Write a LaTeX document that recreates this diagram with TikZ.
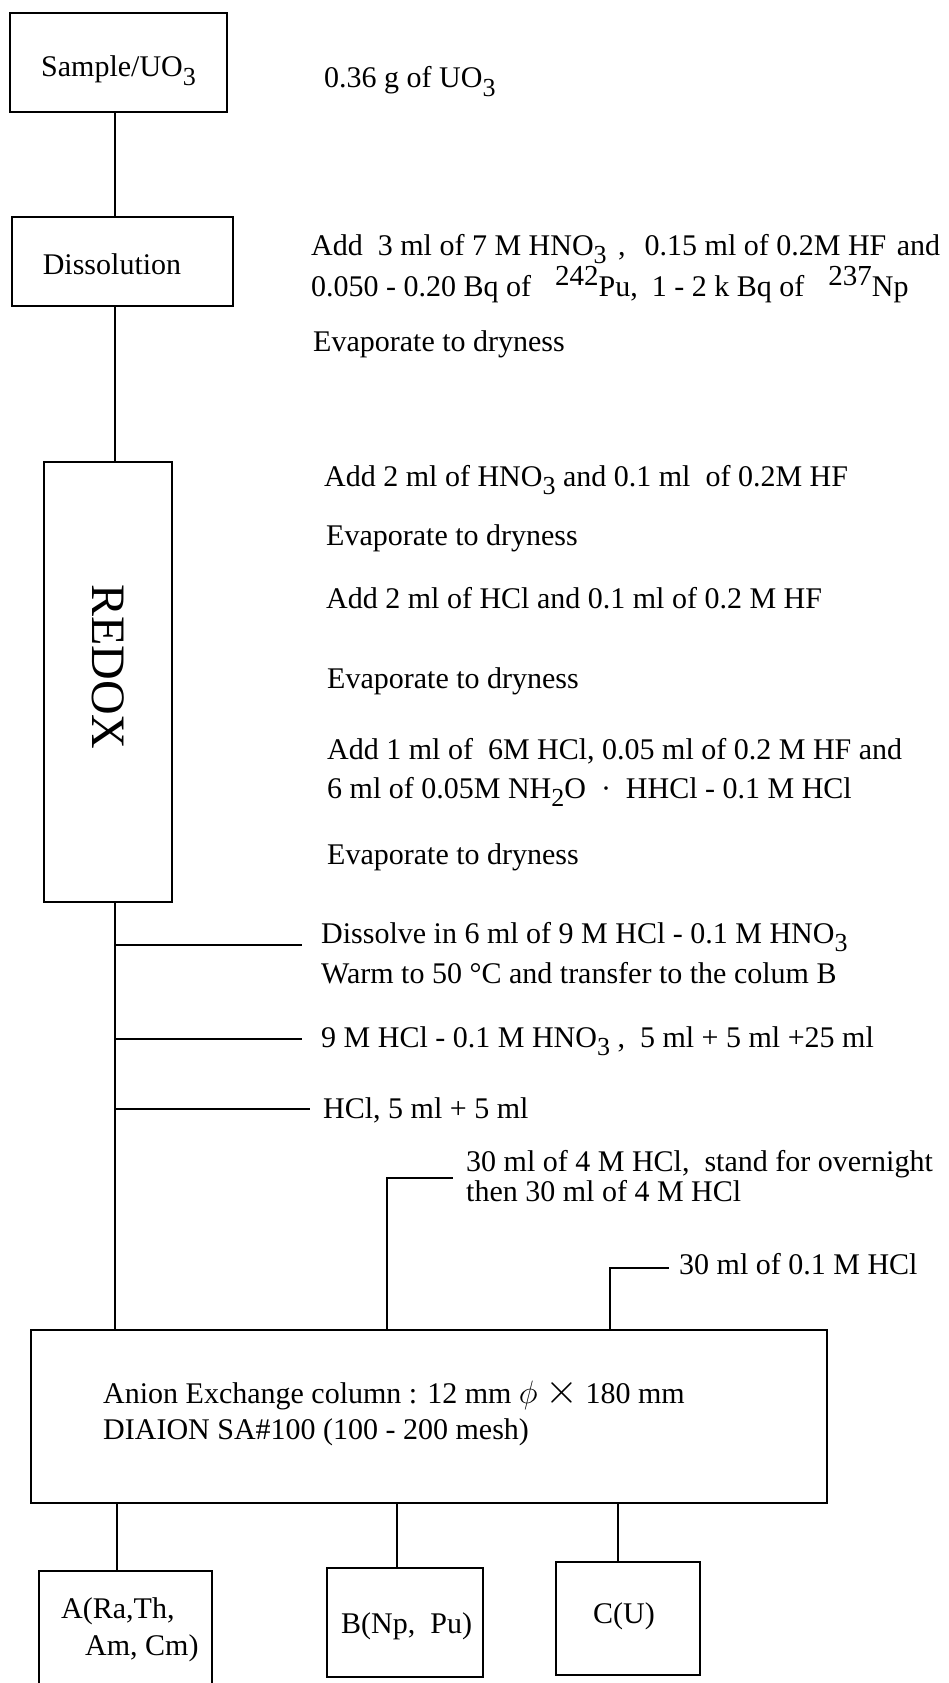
\documentclass[tikz,border=0pt]{standalone}
\usepackage{fontspec}
\setmainfont{Liberation Serif}
\usepackage{graphicx}
\newcommand{\sbs}[1]{\raisebox{-0.27em}{\fontsize{26}{26}\selectfont #1}}
\newcommand{\sps}[1]{\raisebox{0.36em}{\fontsize{29}{29}\selectfont #1}}
\begin{document}
\begin{tikzpicture}[x=1pt,y=-1pt,
  box/.style={draw, line width=1.6pt, inner sep=0pt, outer sep=0pt},
  txt/.style={anchor=base west, inner sep=0pt, font=\fontsize{30}{36}\selectfont},
  ctxt/.style={anchor=base, inner sep=0pt, font=\fontsize{30}{36}\selectfont},
  conn/.style={line width=1.6pt}]
\path[use as bounding box] (0,0) rectangle (948,1683);
\fill[white] (0,0) rectangle (948,1683);
\coordinate (spine) at (115,0);

% boxes
\node[box, minimum width=217pt, minimum height=99pt] (sample) at (118.5,62.5) {};
\node[box, minimum width=221pt, minimum height=89pt] (dissol) at (122.5,261.5) {};
\node[box, minimum width=128pt, minimum height=440pt] (redox) at (108,682) {};
\node[box, minimum width=796pt, minimum height=173pt] (anion) at (429,1416.5) {};
\node[box, minimum width=173pt, minimum height=119pt] (boxA) at (125.5,1630.5) {};
\node[box, minimum width=156pt, minimum height=109pt] (boxB) at (405,1622.5) {};
\node[box, minimum width=144pt, minimum height=113pt] (boxC) at (628,1618.5) {};

% box texts
\node[ctxt] (tsample) at (118.5,77) {Sample/UO\sbs{3}};
\node[ctxt] (tdissol) at (112,274) {Dissolution};
\node[inner sep=0pt, rotate=-90, font=\fontsize{48}{48}\selectfont] (tredox) at (108,667) {REDOX};
\node[txt] (tan1) at (103,1403) {Anion Exchange column : 12 mm \scalebox{1.3}{$\phi$} \scalebox{1.7}{$\times$} 180 mm};
\node[txt] (tan2) at (103,1439) {DIAION SA\#100 (100 - 200 mesh)};
\node[txt] (tA1) at (61,1618) {A(Ra,Th,};
\node[txt] (tA2) at (85,1655) {Am, Cm)};
\node[txt] (tB) at (341,1633) {B(Np,\ \ Pu)};
\node[txt] (tC) at (593,1623) {C(U)};

% step texts
\node[txt] (s0) at (324,88) {0.36 g of UO\sbs{3}};
\node[txt] (s1) at (311,255) {Add\ \ 3 ml of 7 M HNO\sbs{3}\hspace{4pt}\ ,\hspace{4pt}\ \ 0.15 ml of 0.2M HF\hspace{3pt} and};
\node[txt] (s2) at (311,296) {0.050 - 0.20 Bq of\hspace{24pt}\sps{242}Pu,\hspace{14pt}1 - 2 k Bq of\hspace{24pt}\sps{237}Np};
\node[txt] (s3) at (313,351) {Evaporate to dryness};
\node[txt] (s4) at (324,486) {Add 2 ml of HNO\sbs{3} and 0.1 ml\ \ of 0.2M HF};
\node[txt] (s5) at (326,545) {Evaporate to dryness};
\node[txt] (s6) at (326,608) {Add 2 ml of HCl and 0.1 ml of 0.2 M HF};
\node[txt] (s7) at (327,688) {Evaporate to dryness};
\node[txt] (s8) at (327,759) {Add 1 ml of\ \ 6M HCl, 0.05 ml of 0.2 M HF and};
\node[txt] (s9) at (327,798) {6 ml of 0.05M NH\sbs{2}O\ \ ·\ \ HHCl - 0.1 M HCl};
\node[txt] (s10) at (327,864) {Evaporate to dryness};
\node[txt] (s11) at (321,943) {Dissolve in 6 ml of 9 M HCl - 0.1 M HNO\sbs{3}};
\node[txt] (s12) at (321,983) {Warm to 50 \textdegree C and transfer to the colum B};
\node[txt] (s13) at (321,1047) {9 M HCl - 0.1 M HNO\sbs{3}\ ,\ \ 5 ml + 5 ml +25 ml};
\node[txt] (s14) at (323,1118) {HCl, 5 ml + 5 ml};
\node[txt] (s15) at (466,1171) {30 ml of 4 M HCl,\ \ stand for overnight};
\node[txt] (s16) at (466,1201) {then 30 ml of 4 M HCl};
\node[txt] (s17) at (679,1274) {30 ml of 0.1 M HCl};

% main spine
\draw[conn] (sample.south -| spine) -- (dissol.north -| spine);
\draw[conn] (dissol.south -| spine) -- (redox.north -| spine);
\draw[conn] (redox.south -| spine) -- (anion.north -| spine);

% side feeds
\coordinate (b1) at (302,945);
\coordinate (b2) at (302,1039);
\coordinate (b3) at (310,1109);
\draw[conn] (b1 -| spine) -- (b1);
\draw[conn] (b2 -| spine) -- (b2);
\draw[conn] (b3 -| spine) -- (b3);
\coordinate (b4c) at (387,1178);
\coordinate (b4e) at (453,1178);
\draw[conn] (anion.north -| b4c) -- (b4c) -- (b4e);
\coordinate (b5c) at (610,1268);
\coordinate (b5e) at (669,1268);
\draw[conn] (anion.north -| b5c) -- (b5c) -- (b5e);

% outputs
\coordinate (oA) at (117,0);
\coordinate (oB) at (397,0);
\coordinate (oC) at (618,0);
\draw[conn] (anion.south -| oA) -- (boxA.north -| oA);
\draw[conn] (anion.south -| oB) -- (boxB.north -| oB);
\draw[conn] (anion.south -| oC) -- (boxC.north -| oC);
\end{tikzpicture}
\end{document}
